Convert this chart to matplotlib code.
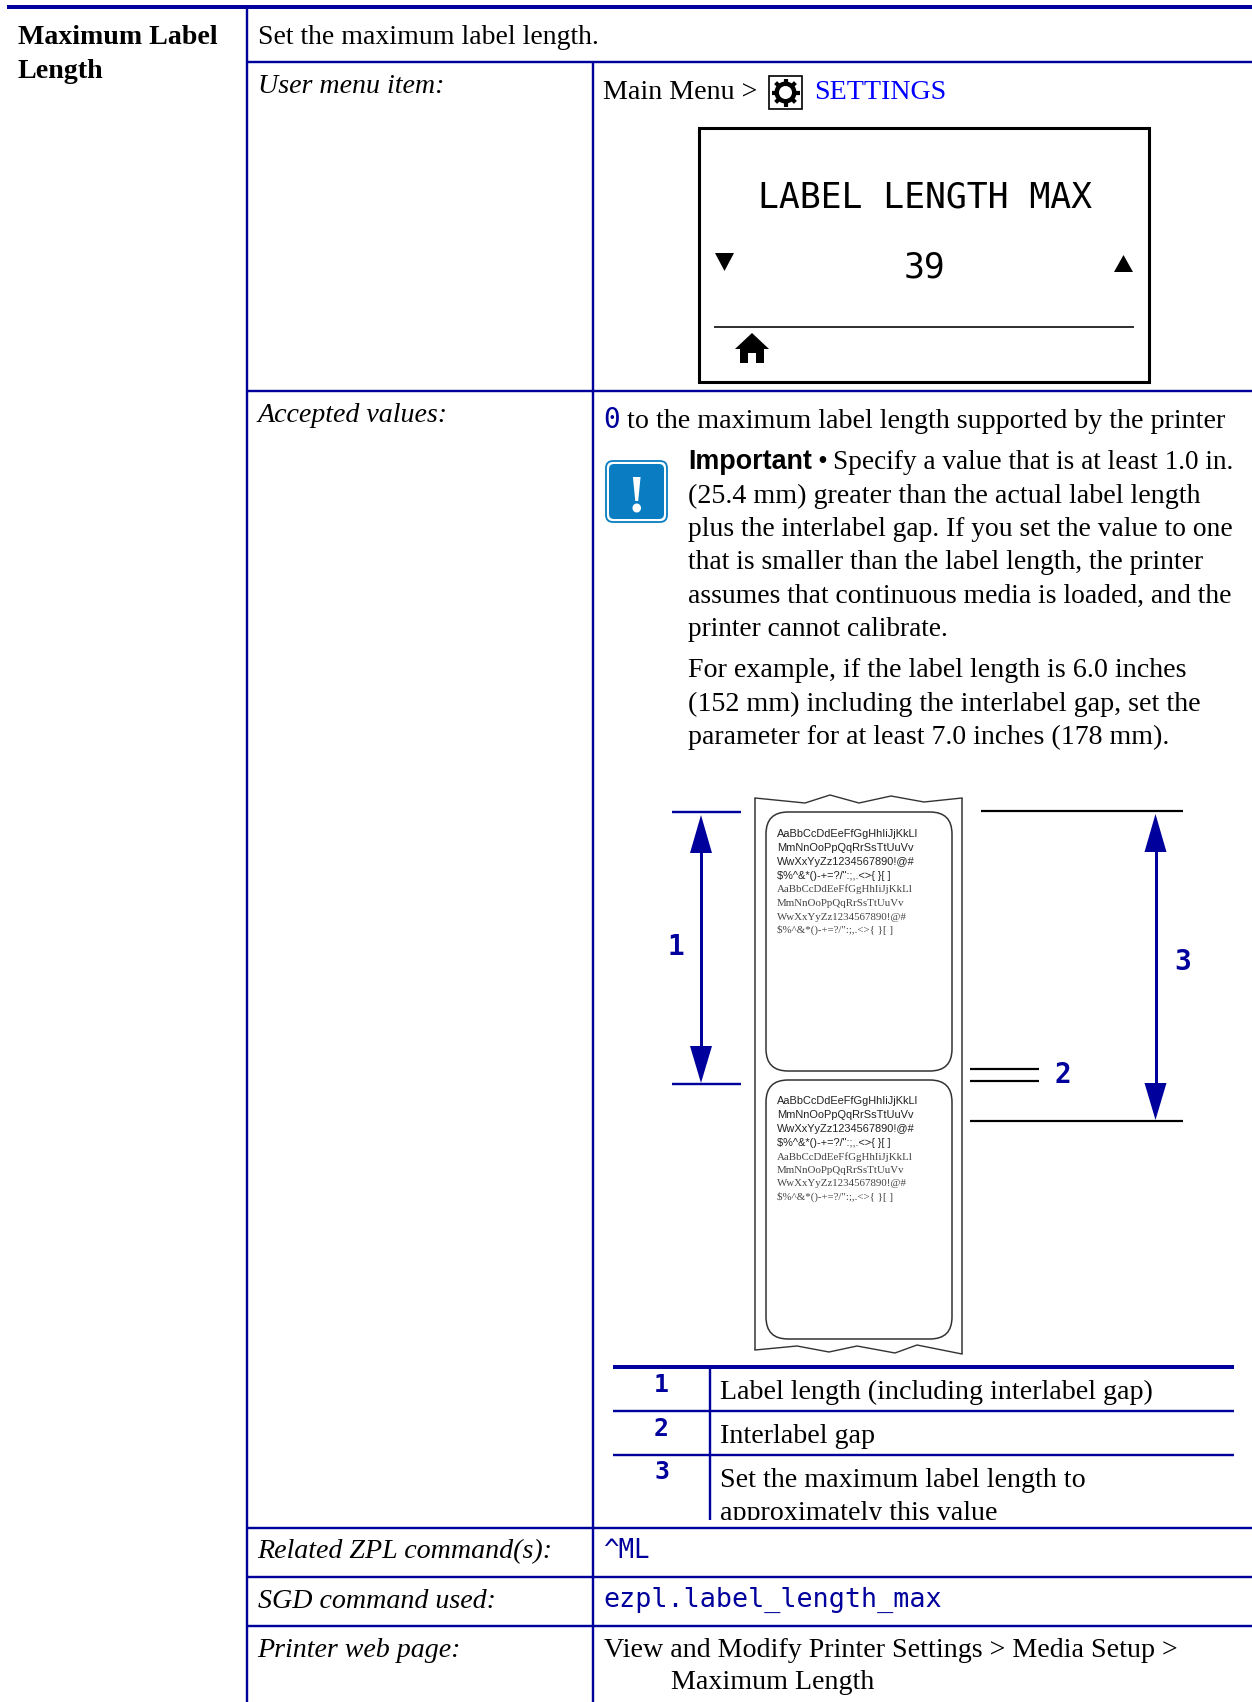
import numpy as np
from matplotlib import pyplot as plt
from matplotlib.patches import Circle, FancyBboxPatch, Polygon, Rectangle

SERIF = 'Liberation Serif'
SANS = 'Liberation Sans'
MONO = 'DejaVu Sans Mono'
NAVY = '#00009c'

# Text of the left hand columns.
title_lines = ["Maximum Label", "Length"]
title_base = [44, 78]
row_names = ["User menu item:", "Accepted values:", "Related ZPL command(s):",
	"SGD command used:", "Printer web page:"]
row_base = [93, 422, 1558, 1608, 1657]

# The note, line by line.
note_lines = ["(25.4 mm) greater than the actual label length",
	"plus the interlabel gap. If you set the value to one",
	"that is smaller than the label length, the printer",
	"assumes that continuous media is loaded, and the",
	"printer cannot calibrate.",
	"For example, if the label length is 6.0 inches",
	"(152 mm) including the interlabel gap, set the",
	"parameter for at least 7.0 inches (178 mm)."]
note_base = [503, 536, 569, 603, 636, 677, 711, 744]
note_size = [20.2, 19.8, 19.9, 19.9, 19.6, 20.2, 20.2, 20.1]

# Sample print on the labels.
sample_sans = ["AaBbCcDdEeFfGgHhIiJjKkLl", "MmNnOoPpQqRrSsTtUuVv",
	"WwXxYyZz1234567890!@#", "$%^&*()-+=?/\":;,.<>{ }[ ]"]
sample_tops = [837, 1104]

# Legend under the drawing.
legend_nums = ["1", "2", "3"]
legend_text = ["Label length (including interlabel gap)", "Interlabel gap",
	"Set the maximum label length to"]
legend_num_base = [1392, 1436, 1479]
legend_base = [1399, 1443, 1487]

# Torn edges of the label strip.
tear_top_x = [755, 805, 830, 859, 891, 924, 962]
tear_top_y = [798, 803, 795, 803, 796, 802, 798]
tear_bot_x = [755, 797, 829, 857, 895, 917, 962]
tear_bot_y = [1350, 1346, 1352, 1346, 1353, 1345, 1354]

fig = plt.figure(figsize=(12.52, 17.02), dpi=100)
ax = fig.add_axes([0, 0, 1, 1])
ax.set_xlim(0, 1252)
ax.set_ylim(1702, 0)
ax.axis('off')

def hline(y, x0, x1, lw=2.4, color=NAVY):
	ax.plot([x0, x1], [y, y], color=color, lw=lw*0.72, solid_capstyle='butt')

def vline(x, y0, y1, lw=2.4, color=NAVY):
	ax.plot([x, x], [y0, y1], color=color, lw=lw*0.72, solid_capstyle='butt')

def serif(x, y, s, size=20.2, **kw):
	kw.setdefault('color', 'k')
	return ax.text(x, y, s, family=SERIF, fontsize=size, va='baseline', **kw)

def mono(x, y, s, size=19, **kw):
	return ax.text(x, y, s, family=MONO, fontsize=size, va='baseline', color=NAVY, **kw)

def head(x, tip, base, half=11):
	ax.add_patch(Polygon([[x, tip], [x-half, base], [x+half, base]], color=NAVY, lw=0))

# Table rules.
hline(7, 7, 1252, 4)
vline(247, 9, 1702)
hline(62, 247, 1252)
vline(593, 62, 1702)
for y in [391, 1528, 1577, 1626]:
	hline(y, 247, 1252)

# Left columns.
for y, s in zip(title_base, title_lines):
	serif(18, y, s, size=20.2, weight='bold')
serif(258.5, 44, "Set the maximum label length.", size=20)
for y, s in zip(row_base, row_names):
	serif(257.5, y, s, style='italic')

# Menu path with gear.
serif(603, 99, "Main Menu >")
serif(814, 99, "SETTINGS", color='#0000ff')
ax.add_patch(Rectangle((769, 76), 33, 33, fc='w', ec='k', lw=1.2))
ax.add_patch(Circle((785.5, 92.5), 11, color='k', lw=0))
ax.add_patch(Circle((785.5, 92.5), 6.5, color='w', lw=0))
for a in np.arange(8)*np.pi/4:
	ax.plot([785.5+9.5*np.cos(a), 785.5+14*np.cos(a)], [92.5+9.5*np.sin(a), 92.5+14*np.sin(a)],
		color='k', lw=3, solid_capstyle='butt')

# Printer display.
ax.add_patch(Rectangle((699, 128), 450, 253.5, fc='w', ec='k', lw=2.2))
ax.text(925, 208, "LABEL LENGTH MAX", family=MONO, fontsize=25, ha='center', va='baseline', color='k')
ax.text(924, 278, "39", family=MONO, fontsize=25, ha='center', va='baseline', color='k')
ax.add_patch(Polygon([[715, 253], [734, 253], [724.5, 271]], color='k', lw=0))
ax.add_patch(Polygon([[1114, 272], [1133, 272], [1123.5, 255]], color='k', lw=0))
hline(327, 714, 1134, 2, '#333333')
ax.add_patch(Polygon([[752, 333], [769, 349], [764, 349], [764, 363], [756, 363], [756, 353],
	[748, 353], [748, 363], [740, 363], [740, 349], [735, 349]], color='k', lw=0))

# Accepted values and the note.
mono(603, 428, "0", size=20)
serif(627, 428, "to the maximum label length supported by the printer")
ax.text(688, 469, "Important", family=SANS, weight='bold', fontsize=19.4, va='baseline', color='k')
serif(817, 469, "•")
serif(833, 469, "Specify a value that is at least 1.0 in.", size=19.6)
for y, s, z in zip(note_base, note_lines, note_size):
	serif(688, y, s, size=z)
ax.add_patch(FancyBboxPatch((609, 464), 55, 55, boxstyle="round,pad=3,rounding_size=7", fc='w', ec='#0a7cc2', lw=1.3))
ax.add_patch(FancyBboxPatch((609, 464), 55, 55, boxstyle="round,pad=0,rounding_size=5", fc='#0a7cc2', ec='none'))
ax.text(636.5, 511, "!", family=SERIF, weight='bold', fontsize=38, ha='center', va='baseline', color='w')

# Label strip.
ax.plot(tear_top_x, tear_top_y, color='#333333', lw=1)
ax.plot(tear_bot_x, tear_bot_y, color='#333333', lw=1)
vline(755, 798, 1350, 1.5, '#333333')
vline(962, 798, 1354, 1.5, '#333333')
for y0, y1 in [(812, 1071), (1080, 1339)]:
	ax.add_patch(FancyBboxPatch((766+22, y0+22), 186-44, y1-y0-44, boxstyle="round,pad=22,rounding_size=22",
		fc='w', ec='#333333', lw=1.1))
for top in sample_tops:
	for i, s in enumerate(sample_sans):
		ax.text(777, top+14*i, s, family=SANS, fontsize=7.9, va='baseline', color='#222222')
	for i, s in enumerate(sample_sans):
		ax.text(777, top+55.5+13.5*i, s, family=SERIF, fontsize=7.85, va='baseline', color='#444444')

# Dimension lines.
hline(812, 672, 741)
hline(1084, 672, 741)
vline(701, 830, 1065, 3)
head(701, 815, 853)
head(701, 1083, 1046)
vline(1155.5, 830, 1100, 3)
head(1155.5, 814, 852)
head(1155.5, 1120, 1083)
hline(811, 981, 1183, 2.2, 'k')
hline(1121, 970, 1183, 2.2, 'k')
hline(1069, 970, 1039, 2.2, 'k')
hline(1081, 970, 1039, 2.2, 'k')
for x, y, s in [(676, 955, "1"), (1183, 970, "3"), (1063, 1083, "2")]:
	mono(x, y, s, size=20, weight='bold', ha='center')

# Legend table.
hline(1367, 613, 1234, 4)
hline(1411, 613, 1234)
hline(1455, 613, 1234)
vline(710, 1367, 1520)
for y, s in zip(legend_num_base, legend_nums):
	mono(661.5, y, s, size=18, weight='bold', ha='center')
for y, s in zip(legend_base, legend_text):
	serif(720, y, s)
cut = serif(720, 1520, "approximately this value")
cut.set_clip_on(True)
cut.set_clip_path(Rectangle((700, 1490), 540, 30, transform=ax.transData))

# Bottom rows.
mono(603, 1558, "^ML", size=18.5)
mono(603.5, 1607, "ezpl.label_length_max", size=19.3)
serif(604, 1657, "View and Modify Printer Settings > Media Setup >")
serif(671, 1689, "Maximum Length")

fig.savefig("out.png", dpi=100)
